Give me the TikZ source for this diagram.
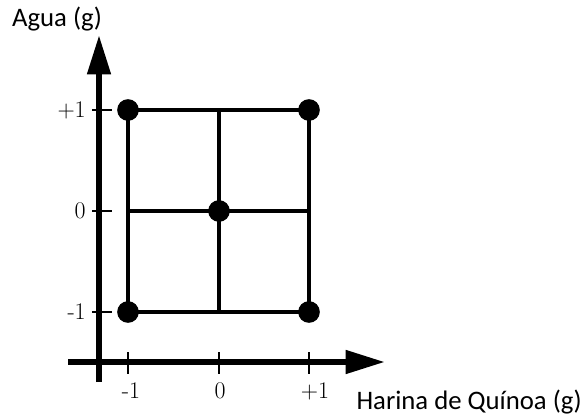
\documentclass[tikz,border=0pt]{standalone}
\usepackage{fontspec}
\newfontfamily\axisfont{Carlito}
\usetikzlibrary{arrows.meta}

\tikzset{
    axis/.style={line width=4.4pt, -{Triangle[length=28pt, width=16pt]}},
    gridline/.style={line width=2.8pt},
    tickmark/.style={line width=0.8pt},
    dot/.style={circle, fill=black, inner sep=0pt, minimum size=15.4pt},
    ticklabel/.style={font=\fontsize{17}{19}\selectfont, inner sep=0pt},
    axislabel/.style={font=\axisfont\fontsize{19}{22}\selectfont, inner sep=0pt}
}

\begin{document}
\begin{tikzpicture}[
    x=0.025cm,
    y=-0.025cm,
    line cap=butt,
    line join=miter
]
\useasboundingbox (0,0) rectangle (584,415);

%------------------------------------------------
% Design points
%------------------------------------------------
\coordinate (nw) at (128,110);
\coordinate (n)  at (219,110);
\coordinate (ne) at (309,110);
\coordinate (w)  at (128,211);
\coordinate (c)  at (219,211);
\coordinate (e)  at (309,211);
\coordinate (sw) at (128,312);
\coordinate (s)  at (219,312);
\coordinate (se) at (309,312);

%------------------------------------------------
% Square and cross
%------------------------------------------------
\draw[gridline] (nw) -- (ne) -- (se) -- (sw) -- cycle;
\draw[gridline] (n) -- (s);
\draw[gridline] (w) -- (e);

\foreach \p in {nw, ne, c, sw, se}
    \node[dot] (dot-\p) at (\p) {};

%------------------------------------------------
% Axes
%------------------------------------------------
\coordinate (yfrom) at (99,382);
\coordinate (yto)   at (99,35);
\coordinate (xfrom) at (68,362);
\coordinate (xto)   at (385,362);

\draw[axis] (yfrom) -- (yto);
\draw[axis] (xfrom) -- (xto);

\node[axislabel] (ylabel) at (57,19) {Agua (g)};
\node[axislabel, anchor=east] (xlabel) at (582,402) {Harina de Quínoa (g)};

%------------------------------------------------
% Tick marks and labels on vertical axis
%------------------------------------------------
\foreach \y/\lab in {110/+1, 211/0, 312/-1} {
    \draw[tickmark] (92,\y) -- (112,\y);
    \node[ticklabel, anchor=east] at (86,\y) {\lab};
}

%------------------------------------------------
% Tick marks and labels on horizontal axis
%------------------------------------------------
\foreach \x/\lx/\lab in {128/131/-1, 219/220/0, 309/315/+1} {
    \draw[tickmark] (\x,352) -- (\x,374);
    \node[ticklabel] at (\lx,391) {\lab};
}

\end{tikzpicture}
\end{document}
